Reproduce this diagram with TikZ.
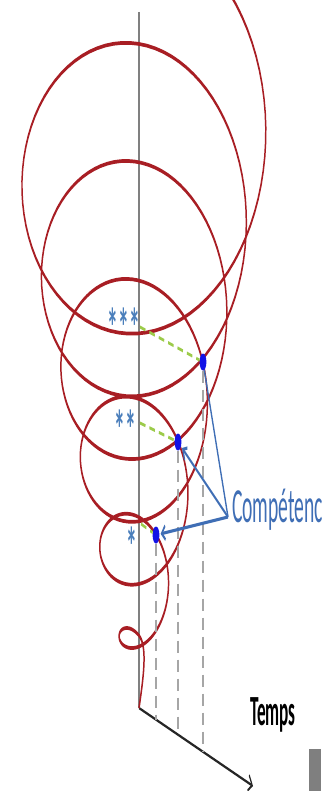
\documentclass[tikz,border=0pt]{standalone}
\usepackage{fontspec}
\usepackage{tikz}
\usetikzlibrary{arrows.meta}
\newfontfamily\carlito{Carlito}
\definecolor{spiralred}{HTML}{A81E24}
\definecolor{axisgray}{HTML}{808080}
\definecolor{guidegray}{HTML}{A6A6A6}
\definecolor{radiusgreen}{HTML}{9CCB4A}
\definecolor{dotblue}{HTML}{1212E6}
\definecolor{starblue}{HTML}{4A7EBB}
\definecolor{labelblue}{HTML}{3F6EB5}
\definecolor{boxgray}{HTML}{7F7F7F}

\begin{document}
\begin{tikzpicture}[x=1pt, y=-1pt,
  spiral/.style={spiralred, line width=3.7pt, line join=round},
  axisline/.style={axisgray, line width=4pt},
  guide/.style={guidegray, line width=3.5pt, dash pattern=on 12pt off 7pt},
  radius/.style={radiusgreen, line width=3pt, dash pattern=on 14pt off 10pt},
  dot/.style={circle, fill=dotblue, inner sep=0pt, minimum size=17pt},
  stars/.style={text=starblue, font=\carlito\bfseries\fontsize{54}{54}\selectfont, inner sep=0pt},
  pointer/.style={labelblue, line width=3.2pt},
  tip/.style={-{Straight Barb[length=9pt, width=14pt]}, shorten >=3pt},
]
  \useasboundingbox (0,0) rectangle (321,791);
  \clip (0,0) rectangle (321,791);

  % the picture is squeezed sideways, so everything is drawn wide
  \begin{scope}[x=2.5pt, transform canvas={xscale=0.4}]
    % Axes
    \coordinate (top) at (139,12);
    \coordinate (O) at (139,708);
    \coordinate (T) at (253,786);
    \draw[axisline] (top) -- (O);
    \draw[black!85, line width=2.6pt, -{Straight Barb[length=10pt, width=16pt]}] (O) -- (T);
    \node[anchor=base west, inner sep=0pt, font=\carlito\bfseries\fontsize{43}{43}\selectfont] (temps) at (250,725) {Temps};

    % Spiral
    \draw[spiral] (O) .. controls (143,680) and (148,647) .. (139,635.5)
      -- plot[domain=-3*pi:8.8*pi, samples=500, variable=\t]
        ({139+(44+3.1*\t)*sin(\t r)}, {521-14.4*\t+1.43*(44+3.1*\t)*cos(\t r)});

    % Levels
    \node[dot] (d1) at (156,535) {};
    \node[dot] (d2) at (178,442) {};
    \node[dot] (d3) at (203,362) {};
    \coordinate (r1) at (141,524);
    \coordinate (r2) at (140,423);
    \coordinate (r3) at (140,327);
    \draw[radius] (r1) -- (d1);
    \draw[radius] (r2) -- (d2);
    \draw[radius] (r3) -- (d3);
    \node[stars, anchor=base] (s1) at (132,565) {*};
    \node[stars, anchor=base] (s2) at (125,448) {**};
    \node[stars, anchor=base] (s3) at (124,346) {***};

    % Projections on time
    \coordinate (t1) at (156,720);
    \coordinate (t2) at (178,735);
    \coordinate (t3) at (203,752);
    \draw[guide] (d1) -- (t1);
    \draw[guide] (d2) -- (t2);
    \draw[guide] (d3) -- (t3);

    % Label
    \node[anchor=base west, inner sep=0pt, text=labelblue, font=\carlito\fontsize{49}{49}\selectfont] (comp) at (232,522) {Compétences};
    \coordinate (conv) at ([shift={(-4,-5)}]comp.base west);
    \draw[pointer] (conv) -- (d3);
    \draw[pointer, tip] (conv) -- (d2);
    \draw[pointer, tip] (conv) -- (d1);
  \end{scope}

  \fill[boxgray] (309,749) rectangle (321,791);
\end{tikzpicture}
\end{document}
